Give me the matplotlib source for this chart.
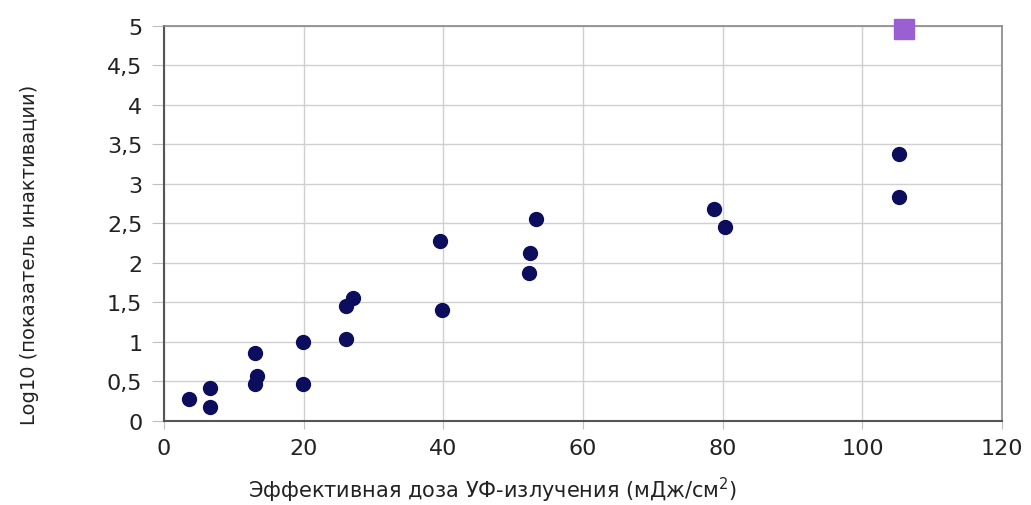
import matplotlib
matplotlib.use("Agg")
import matplotlib.pyplot as plt
from matplotlib.ticker import FuncFormatter

# Data
dose = [3.6, 6.6, 6.6, 13.0, 13.3, 13.0, 19.9, 19.9, 26.0, 26.0, 27.0,
        39.5, 39.8, 52.4, 52.2, 53.3, 78.7, 80.3, 105.2, 105.2]
log_inact = [0.28, 0.42, 0.18, 0.86, 0.57, 0.47, 1.00, 0.47, 1.04, 1.46, 1.56,
             2.28, 1.41, 2.12, 1.87, 2.56, 2.68, 2.46, 3.38, 2.84]
sq_dose = [105.9]
sq_log = [4.96]

xticks = [0, 20, 40, 60, 80, 100, 120]
yticks = [0, 0.5, 1, 1.5, 2, 2.5, 3, 3.5, 4, 4.5, 5]

fig = plt.figure(figsize=(10.31, 5.06), dpi=100)
ax = fig.add_axes([0.159, 0.166, 0.813, 0.781])

ax.plot(dose, log_inact, 'o', color='#0d0d5e', markersize=10, zorder=3,
        clip_on=False)
ax.plot(sq_dose, sq_log, 's', color='#9a5fd0', markersize=15, zorder=3,
        clip_on=False)

ax.set_xlim(0, 120)
ax.set_ylim(0, 5)
ax.set_xticks(xticks)
ax.set_yticks(yticks)

def fmt(v, pos):
    return ('%g' % v).replace('.', ',')

ax.yaxis.set_major_formatter(FuncFormatter(fmt))
ax.grid(True, color='#d0d0d0', linewidth=1.0)
ax.set_axisbelow(True)
for side in ['top', 'right']:
    ax.spines[side].set_color('#888888')
    ax.spines[side].set_linewidth(1.2)
for side in ['left', 'bottom']:
    ax.spines[side].set_color('#555555')
    ax.spines[side].set_linewidth(1.5)

ax.tick_params(axis='x', length=6, color='#c0c0c0', labelsize=16,
               labelcolor='#222222', pad=6)
ax.tick_params(axis='y', length=8.5, color='#c0c0c0', labelsize=16,
               labelcolor='#222222', pad=7)

fig.text(0.478, 0.030, 'Эффективная доза УФ-излучения (мДж/см$^2$)',
         fontsize=15, color='#222222', ha='center', va='center')
fig.text(0.029, 0.497, 'Log10 (показатель инактивации)', fontsize=14,
         color='#222222', ha='center', va='center', rotation=90)

fig.savefig('out.png', dpi=100)
